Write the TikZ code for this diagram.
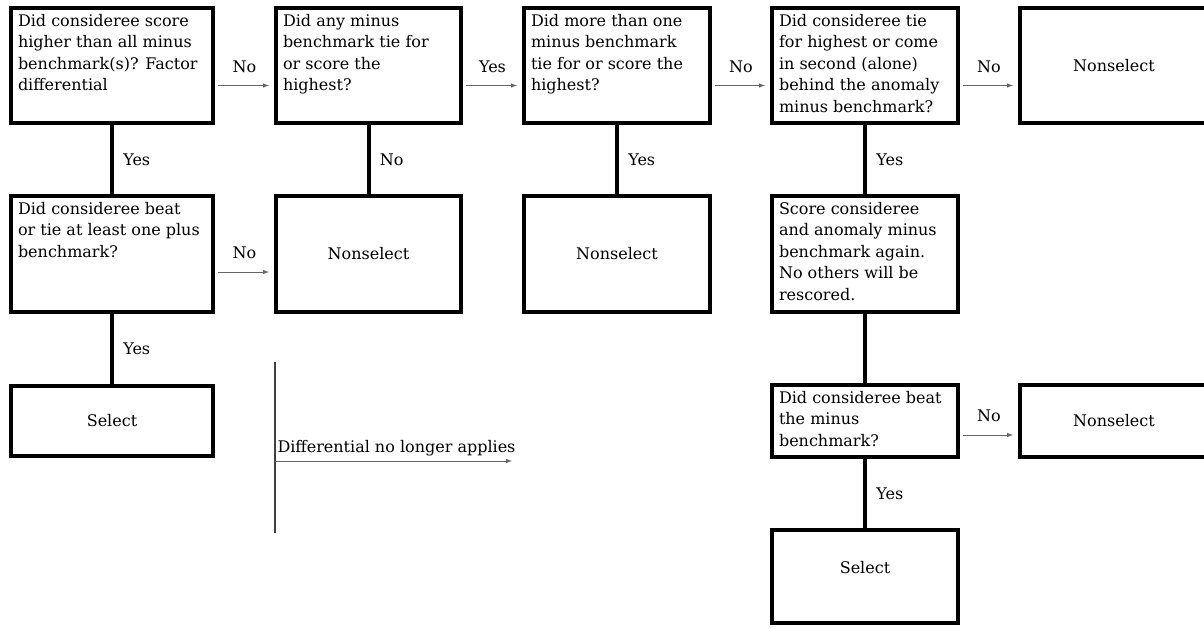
\documentclass[tikz,border=0pt]{standalone}
\usepackage{fontspec}
\setmainfont{DejaVu Serif}
\usetikzlibrary{arrows,positioning}

\newcommand{\boxfont}{\fontsize{16pt}{21.5pt}\selectfont}
\newcommand{\qtext}[3]{\parbox[t][#2][t]{#1}{\raggedright #3}}

\begin{document}
\begin{tikzpicture}[x=1pt,y=-1pt,
        qbox/.style={draw, line width=4pt, anchor=north west, inner xsep=7pt, inner ysep=6pt, font=\boxfont},
        ebox/.style={draw, line width=4pt, anchor=north west, font=\boxfont},
        link/.style={line width=4pt},
        flow/.style={-latex, draw=black!60, line width=1pt, shorten <=3pt, shorten >=5pt},
        lab/.style={font=\boxfont, text=black}]
        \useasboundingbox[fill=white] (0,0) rectangle (1204,627);
        \node[qbox] (a1) at (9,6) {\qtext{188pt}{103pt}{Did consideree score\\higher than all minus\\benchmark(s)? Factor\\differential}};
        \node[qbox] (b1) at (274,6) {\qtext{171pt}{103pt}{Did any minus\\benchmark tie for\\or score the\\highest?}};
        \node[qbox] (c1) at (522,6) {\qtext{172pt}{103pt}{Did more than one\\minus benchmark\\tie for or score the\\highest?}};
        \node[qbox] (d1) at (770,6) {\qtext{172pt}{103pt}{Did consideree tie\\for highest or come\\in second (alone)\\behind the anomaly\\minus benchmark?}};
        \node[ebox, minimum width=188pt, minimum height=115pt] (e1) at (1018,6) {Nonselect};
        \node[qbox] (a2) at (9,194) {\qtext{188pt}{104pt}{Did consideree beat\\or tie at least one plus\\benchmark?}};
        \node[ebox, minimum width=185pt, minimum height=116pt] (b2) at (274,194) {Nonselect};
        \node[ebox, minimum width=186pt, minimum height=116pt] (c2) at (522,194) {Nonselect};
        \node[qbox] (d2) at (770,194) {\qtext{172pt}{104pt}{Score consideree\\and anomaly minus\\benchmark again.\\No others will be\\rescored.}};
        \node[ebox, minimum width=202pt, minimum height=70pt] (a3) at (9,384) {Select};
        \node[qbox] (d3) at (770,383) {\qtext{172pt}{60pt}{Did consideree beat\\the minus\\benchmark?}};
        \node[ebox, minimum width=188pt, minimum height=72pt] (e3) at (1018,383) {Nonselect};
        \node[ebox, minimum width=186pt, minimum height=93pt, text depth=18pt] (d4) at (770,528) {Select};
        \path[link] (a1) edge node[lab, right=6pt] {Yes} (a2);
        \path[link] (a2) edge node[lab, right=6pt] {Yes} (a3);
        \path[link] (b1) edge node[lab, right=6pt] {No} (b2);
        \path[link] (c1) edge node[lab, right=6pt] {Yes} (c2);
        \path[link] (d1) edge node[lab, right=6pt] {Yes} (d2);
        \path[link] (d2) edge (d3);
        \path[link] (d3) edge node[lab, right=6pt] {Yes} (d4);
        \draw[flow] ([yshift=-20pt]a1.east) -- node[lab, above=9pt] {No} ([yshift=-20pt]b1.west);
        \draw[flow] ([yshift=-20pt]b1.east) -- node[lab, above=9pt] {Yes} ([yshift=-20pt]c1.west);
        \draw[flow] ([yshift=-20pt]c1.east) -- node[lab, above=9pt] {No} ([yshift=-20pt]d1.west);
        \draw[flow] ([yshift=-20pt]d1.east) -- node[lab, above=9pt] {No} ([yshift=-20pt]e1.west);
        \draw[flow] ([yshift=-18pt]a2.east) -- node[lab, above=9pt] {No} ([yshift=-18pt]b2.west);
        \draw[flow] ([yshift=-14pt]d3.east) -- node[lab, above=9pt] {No} ([yshift=-14pt]e3.west);
        \coordinate (dtop) at (275,362);
        \coordinate (dbot) at (275,533);
        \coordinate (dstart) at (275,461);
        \coordinate (dend) at (512,461);
        \draw[black!75, line width=1.2pt] (dtop) -- (dbot);
        \draw[flow, shorten <=0pt, shorten >=0pt] (dstart) -- node[lab, pos=0, anchor=base west, inner sep=0pt, xshift=2pt, yshift=9pt] (diff) {Differential no longer applies} (dend);
      \end{tikzpicture}
\end{document}
